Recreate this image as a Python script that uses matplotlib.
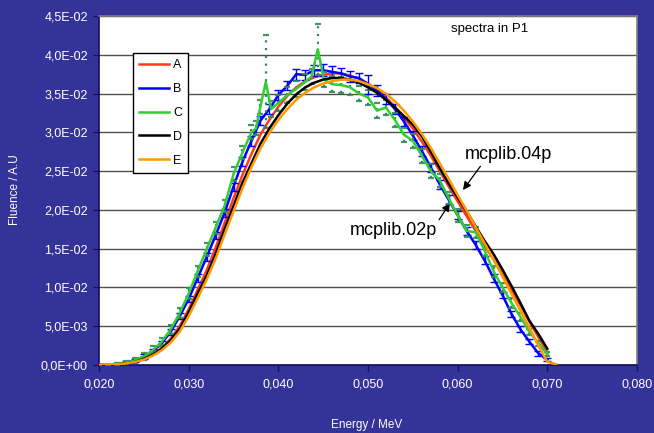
import numpy as np
import matplotlib
matplotlib.use("Agg")
import matplotlib.pyplot as plt
from matplotlib.ticker import FuncFormatter, MultipleLocator

plt.rcParams['font.family'] = ['Liberation Sans', 'DejaVu Sans']

# energy grid shared by A, B, D (MeV)
energy = [0.020, 0.021, 0.022, 0.023, 0.024, 0.025, 0.026, 0.027, 0.028, 0.029,
          0.030, 0.031, 0.032, 0.033, 0.034, 0.035, 0.036, 0.037, 0.038, 0.039,
          0.040, 0.041, 0.042, 0.043, 0.044, 0.045, 0.046, 0.047, 0.048, 0.049,
          0.050, 0.051, 0.052, 0.053, 0.054, 0.055, 0.056, 0.057, 0.058, 0.059,
          0.060, 0.061, 0.062, 0.063, 0.064, 0.065, 0.066, 0.067, 0.068, 0.069,
          0.070]

fluence_a = [0.0, 0.0, 0.0001, 0.0002, 0.0004, 0.0008, 0.0014, 0.0022, 0.0034, 0.0050,
             0.0072, 0.0097, 0.0122, 0.0151, 0.0183, 0.0215, 0.0245, 0.0272, 0.0297, 0.0316,
             0.0333, 0.0347, 0.0358, 0.0366, 0.0371, 0.0374, 0.0376, 0.0376, 0.0373, 0.0369,
             0.0363, 0.0355, 0.0345, 0.0333, 0.0319, 0.0305, 0.0288, 0.0270, 0.0250, 0.0230,
             0.0211, 0.0192, 0.0173, 0.0154, 0.0136, 0.0117, 0.0097, 0.0077, 0.0056, 0.0036,
             0.0016]

fluence_b = [0.0, 0.0, 0.0001, 0.0003, 0.0006, 0.0011, 0.0018, 0.0028, 0.0043, 0.0063,
             0.0085, 0.0112, 0.0139, 0.0167, 0.0196, 0.0230, 0.0262, 0.0289, 0.0315, 0.0330,
             0.0348, 0.0360, 0.0375, 0.0374, 0.0380, 0.0380, 0.0378, 0.0376, 0.0372, 0.0370,
             0.0362, 0.0354, 0.0343, 0.0330, 0.0314, 0.0296, 0.0276, 0.0255, 0.0233, 0.0213,
             0.0193, 0.0173, 0.0155, 0.0135, 0.0112, 0.0090, 0.0066, 0.0046, 0.0030, 0.0015,
             0.0007]
error_b = [0.0, 0.0, 0.0001, 0.0002, 0.0002, 0.0003, 0.0003, 0.0003, 0.0004, 0.0004,
           0.0004, 0.0005, 0.0005, 0.0005, 0.0005, 0.0005, 0.0006, 0.0006, 0.0006, 0.0006,
           0.0006, 0.0006, 0.0007, 0.0007, 0.0007, 0.0008, 0.0007, 0.0007, 0.0007, 0.0007,
           0.0012, 0.0007, 0.0007, 0.0006, 0.0006, 0.0006, 0.0006, 0.0006, 0.0006, 0.0006,
           0.0005, 0.0005, 0.0005, 0.0005, 0.0005, 0.0004, 0.0004, 0.0004, 0.0003, 0.0003,
           0.0002]

energy_c = [0.020, 0.021, 0.022, 0.023, 0.024, 0.025, 0.026, 0.027, 0.028, 0.029,
            0.030, 0.031, 0.032, 0.033, 0.034, 0.035, 0.036, 0.037, 0.0375, 0.038,
            0.0386, 0.0392, 0.040, 0.041, 0.042, 0.043, 0.0437, 0.0444, 0.0451, 0.046,
            0.047, 0.048, 0.049, 0.050, 0.051, 0.052, 0.053, 0.054, 0.055, 0.056,
            0.057, 0.058, 0.059, 0.060, 0.061, 0.062, 0.063, 0.064, 0.065, 0.066,
            0.067, 0.068, 0.069, 0.070]
fluence_c = [0.0, 0.0, 0.0001, 0.0003, 0.0006, 0.0011, 0.0019, 0.0030, 0.0046, 0.0067,
             0.0092, 0.0121, 0.0149, 0.0177, 0.0205, 0.0246, 0.0274, 0.0300, 0.0305, 0.0333,
             0.0365, 0.0330, 0.0338, 0.0348, 0.0356, 0.0365, 0.0372, 0.0407, 0.0368, 0.0362,
             0.0361, 0.0358, 0.0350, 0.0345, 0.0328, 0.0332, 0.0316, 0.0297, 0.0289, 0.0270,
             0.0250, 0.0238, 0.0215, 0.0193, 0.0173, 0.0171, 0.0148, 0.0121, 0.0100, 0.0080,
             0.0062, 0.0043, 0.0028, 0.0014]
error_c = [0.0, 0.0, 0.0001, 0.0002, 0.0003, 0.0004, 0.0005, 0.0005, 0.0006, 0.0006,
           0.0007, 0.0007, 0.0008, 0.0008, 0.0008, 0.0009, 0.0009, 0.0009, 0.0009, 0.0009,
           0.0060, 0.0010, 0.0010, 0.0010, 0.0010, 0.0010, 0.0010, 0.0033, 0.0010, 0.0010,
           0.0010, 0.0010, 0.0010, 0.0010, 0.0010, 0.0010, 0.0009, 0.0009, 0.0009, 0.0009,
           0.0009, 0.0008, 0.0008, 0.0008, 0.0008, 0.0007, 0.0007, 0.0007, 0.0006, 0.0006,
           0.0005, 0.0004, 0.0003, 0.0003]

fluence_d = [0.0, 0.0, 0.0001, 0.0002, 0.0004, 0.0008, 0.0013, 0.0021, 0.0032, 0.0047,
             0.0068, 0.0092, 0.0115, 0.0143, 0.0175, 0.0205, 0.0235, 0.0260, 0.0285, 0.0305,
             0.0322, 0.0337, 0.0349, 0.0358, 0.0364, 0.0368, 0.0370, 0.0370, 0.0368, 0.0364,
             0.0358, 0.0351, 0.0342, 0.0332, 0.0321, 0.0310, 0.0295, 0.0275, 0.0254, 0.0234,
             0.0216, 0.0198, 0.0179, 0.0160, 0.0143, 0.0123, 0.0102, 0.0080, 0.0057, 0.0040,
             0.0021]

energy_e = energy + [0.071]
fluence_e = [0.0, 0.0001, 0.0001, 0.0002, 0.0004, 0.0007, 0.0012, 0.0019, 0.0029, 0.0043,
             0.0063, 0.0086, 0.0110, 0.0137, 0.0168, 0.0198, 0.0228, 0.0255, 0.0279, 0.0299,
             0.0316, 0.0330, 0.0342, 0.0351, 0.0358, 0.0363, 0.0366, 0.0368, 0.0368, 0.0366,
             0.0362, 0.0357, 0.0350, 0.0340, 0.0328, 0.0314, 0.0298, 0.0280, 0.0260, 0.0240,
             0.0219, 0.0199, 0.0178, 0.0157, 0.0136, 0.0114, 0.0092, 0.0070, 0.0048, 0.0025,
             0.0004, 0.0001]

series_labels = ["A", "B", "C", "D", "E"]
y_ticks = np.arange(0, 0.0451, 0.005)
x_ticks = np.arange(0.020, 0.0801, 0.010)

bg = '#333399'
fig = plt.figure(figsize=(6.54, 4.33), dpi=100, facecolor=bg)
ax = fig.add_axes([99 / 654, 68 / 433, 538 / 654, 349 / 433])
ax.set_facecolor('white')

lw = 1.8
# A
line_a, = ax.plot(energy, fluence_a, color='#ff3b1f', lw=lw, zorder=3)
# B with solid error bars
eb_b = ax.errorbar(energy, fluence_b, yerr=error_b, color='#0000ff', lw=lw,
                   elinewidth=1.0, capsize=3, capthick=1.0, zorder=4)
line_b = eb_b[0]
# C with dotted error bars
eb_c = ax.errorbar(energy_c, fluence_c, yerr=error_c, color='#33cc33', lw=lw,
                   ecolor='#2e8b57', elinewidth=1.6, capsize=2, capthick=1.6, zorder=5)
line_c = eb_c[0]
for coll in eb_c[2]:
    coll.set_linestyle((0, (1, 2.5)))
for cap in eb_c[1]:
    cap.set_alpha(0.9)
# D
line_d, = ax.plot(energy, fluence_d, color='black', lw=lw, zorder=6)
# E
line_e, = ax.plot(energy_e, fluence_e, color='#ff9900', lw=lw, zorder=7)

ax.set_xlim(0.020, 0.080)
ax.set_ylim(0, 0.045)
ax.set_xticks(x_ticks)
ax.set_yticks(y_ticks)
ax.xaxis.set_major_formatter(FuncFormatter(lambda v, p: f"{v:.3f}".replace('.', ',')))
ax.yaxis.set_major_formatter(FuncFormatter(lambda v, p: f"{v:.1E}".replace('.', ',')))
ax.tick_params(axis='both', colors='#10105a', labelcolor='white', labelsize=9,
               direction='out', length=4, width=1)
ax.tick_params(axis='x', pad=6)
ax.tick_params(axis='y', pad=4)
ax.grid(axis='y', color='#505050', lw=1.0)
ax.set_axisbelow(True)

for side in ['left', 'bottom']:
    ax.spines[side].set_color('#10105a')
    ax.spines[side].set_linewidth(1.2)
for side in ['top', 'right']:
    ax.spines[side].set_color('#808080')
    ax.spines[side].set_linewidth(1.2)

leg = ax.legend([line_a, line_b, line_c, line_d, line_e], series_labels,
                loc='upper left', bbox_to_anchor=(0.063, 0.894), borderaxespad=0,
                fontsize=9, handlelength=2.4, handletextpad=0.3, labelspacing=0.95,
                borderpad=0.5, fancybox=False, framealpha=1, edgecolor='black')
leg.get_frame().set_linewidth(1.0)

ax.text(0.0636, 0.0433, "spectra in P1", fontsize=9.5, ha='center', va='center', color='black')

ax.annotate("mcplib.04p", xy=(0.06059, 0.02256), xytext=(0.06082, 0.02708),
            fontsize=13, ha='left', va='center',
            arrowprops=dict(arrowstyle='-|>', color='black', lw=0.9, shrinkA=0, shrinkB=0,
                            mutation_scale=12, relpos=(0.2, 0.0)))
ax.annotate("mcplib.02p", xy=(0.05914, 0.02089), xytext=(0.0480, 0.01728),
            fontsize=13, ha='left', va='center',
            arrowprops=dict(arrowstyle='-|>', color='black', lw=0.9, shrinkA=0, shrinkB=0,
                            mutation_scale=12, relpos=(1.0, 1.0)))

fig.text(15 / 654, 1 - 190 / 433, "Fluence / A.U", rotation=90, color='white',
         fontsize=8.5, ha='center', va='center')
fig.text(367 / 654, 1 - 425 / 433, "Energy / MeV", color='white', fontsize=8.5,
         ha='center', va='center')

fig.savefig("out.png", dpi=100, facecolor=bg)
